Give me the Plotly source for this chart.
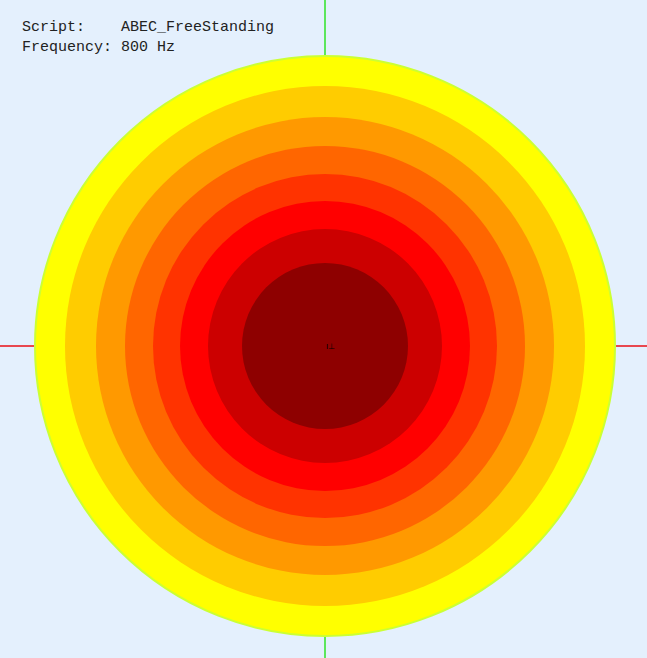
import plotly.graph_objects as go

# Ring radii (outer to inner) and their fill colours
ring_radius = [290, 260, 229, 200, 172, 145, 117, 83]
ring_colors = ["#FFFF00", "#FFCC00", "#FF9900", "#FF6600", "#FF3300", "#FF0000", "#CC0000", "#8E0000"]
rim_color = "#CCFF33"

script_name = "ABEC_FreeStanding"
frequency_hz = 800

fig = go.Figure()
# invisible trace to establish axes
fig.add_trace(go.Scatter(x=[0], y=[0], mode="markers", marker=dict(size=1, color="rgba(0,0,0,0)"),
                         hoverinfo="skip", showlegend=False))

shapes = []
for i, (r, c) in enumerate(zip(ring_radius, ring_colors)):
    shapes.append(dict(type="circle", xref="x", yref="y", x0=-r, x1=r, y0=-r, y1=r,
                       fillcolor=c,
                       line=dict(color=rim_color if i == 0 else c, width=2 if i == 0 else 0),
                       layer="above"))

fig.update_layout(
    width=647, height=658,
    margin=dict(l=0, r=0, t=0, b=0),
    paper_bgcolor="#E4F0FD",
    plot_bgcolor="#E4F0FD",
    showlegend=False,
    shapes=shapes,
    xaxis=dict(range=[-325, 322], showgrid=False, showticklabels=False, ticks="",
               zeroline=True, zerolinecolor="#5CE65C", zerolinewidth=2, fixedrange=True),
    yaxis=dict(range=[-312, 346], showgrid=False, showticklabels=False, ticks="",
               zeroline=True, zerolinecolor="#E8474F", zerolinewidth=2, fixedrange=True),
    annotations=[
        dict(xref="paper", yref="paper", x=20 / 647, y=1 - 17 / 658, xanchor="left", yanchor="top",
             showarrow=False, align="left",
             text=f"Script:    {script_name}<br>Frequency: {frequency_hz} Hz",
             font=dict(family="Liberation Mono, DejaVu Sans Mono, monospace", size=15, color="#222222")),
        dict(xref="x", yref="y", x=5, y=0, showarrow=False, text="ı⊥",
             font=dict(family="DejaVu Sans", size=8, color="#000000")),
    ],
)

fig.write_html("out.html", config={"displayModeBar": False},
               post_script="document.body.style.margin='0';")
